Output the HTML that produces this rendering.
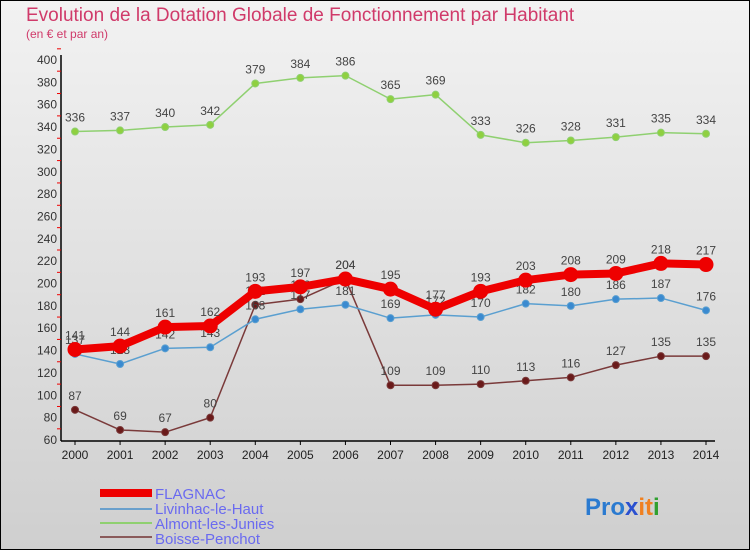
<!DOCTYPE html>
<html><head><meta charset="utf-8"><style>
body{margin:0}
#c{width:750px;height:550px;position:relative;font-family:"Liberation Sans",sans-serif;background:linear-gradient(#f2f2f2,#cfcfcf);overflow:hidden}
</style></head><body>
<div id="c">
<svg id="s" width="750" height="550" xmlns="http://www.w3.org/2000/svg">
<rect x="0.5" y="0.5" width="749" height="549" fill="none" stroke="#000"/>
<text x="26" y="21" font-size="19" fill="#d03a6a">Evolution de la Dotation Globale de Fonctionnement par Habitant</text>
<text x="26" y="38" font-size="12" fill="#d03a6a">(en € et par an)</text>
<g id="axes"></g><g id="series"></g>
<g>
<rect x="100" y="489" width="52" height="8" fill="#e00"/>
<line x1="100" y1="509" x2="152" y2="509" stroke="#6aa0cc" stroke-width="2"/>
<line x1="100" y1="523" x2="152" y2="523" stroke="#8fd070" stroke-width="2"/>
<line x1="100" y1="537" x2="152" y2="537" stroke="#8a5a5a" stroke-width="2"/>
<g font-size="15" fill="#6a6af0">
<text x="155" y="499">FLAGNAC</text>
<text x="155" y="514">Livinhac-le-Haut</text>
<text x="155" y="529">Almont-les-Junies</text>
<text x="155" y="544">Boisse-Penchot</text>
</g></g>
<text x="585" y="515" font-size="24" font-weight="bold"><tspan fill="#2a7ad0">Pro</tspan><tspan fill="#2a50d0">x</tspan><tspan fill="#f08020">it</tspan><tspan fill="#30a030">i</tspan></text>
</svg></div>
<script>
const years=[2000,2001,2002,2003,2004,2005,2006,2007,2008,2009,2010,2011,2012,2013,2014];
const flagnac=[141,144,161,162,193,197,204,195,177,193,203,208,209,218,217];
const livinhac=[137,128,142,143,168,177,181,169,172,170,182,180,186,187,176];
const almont=[336,337,340,342,379,384,386,365,369,333,326,328,331,335,334];
const boisse=[87,69,67,80,181,186,204,109,109,110,113,116,127,135,135];
const yTicks=[60,80,100,120,140,160,180,200,220,240,260,280,300,320,340,360,380,400];
const NS="http://www.w3.org/2000/svg";
const X=i=>75+i*(706-75)/(years.length-1);
const Y=v=>440-(v-60)*380/340;
function mk(t,a,p){const e=document.createElementNS(NS,t);for(const k in a)e.setAttribute(k,a[k]);p.appendChild(e);return e;}
const ax=document.getElementById('axes');
let l=mk('line',{x1:61,y1:55,x2:61,y2:441,stroke:'#000','stroke-width':1.5},ax);


l=mk('line',{x1:61,y1:441,x2:715,y2:441,stroke:'#000','stroke-width':1.5},ax);


yTicks.forEach(v=>{
 const t=mk('text',{x:57,y:Y(v)+4,'font-size':12,fill:'#333','text-anchor':'end'},ax);t.textContent=v;
 
 
 mk('line',{x1:57,y1:Y(v+10),x2:61,y2:Y(v+10),stroke:'#e00'},ax);
});
years.forEach((y,i)=>{
 mk('line',{x1:X(i),y1:441,x2:X(i),y2:445,stroke:'#000'},ax);
 const t=mk('text',{x:X(i),y:459,'font-size':12,fill:'#222','text-anchor':'middle'},ax);t.textContent=y;
 
 
});
const sg=document.getElementById('series');
function draw(vals,name,color,w,r,dot){
 const g=mk('g',{},sg);
 
 
 const p=mk('polyline',{points:vals.map((v,i)=>X(i)+','+Y(v)).join(' '),fill:'none',stroke:color,'stroke-width':w,'stroke-linejoin':'round'},g);
 
 
 vals.forEach((v,i)=>{
  const c=mk('circle',{cx:X(i),cy:Y(v),r:r,fill:dot,stroke:color,'stroke-width':1},g);
  
  
  const t=mk('text',{x:X(i),y:Y(v)-10,'font-size':12,fill:'#444','text-anchor':'middle'},g);t.textContent=v;
  
  
 });
}
draw(almont,'almont','#8fd070',1.5,3.5,'#8fd040');
draw(boisse,'boisse','#7a3a3a',1.5,3.5,'#6a1a1a');
draw(livinhac,'livinhac','#5a9fd0',1.5,3.5,'#3a8ad0');
draw(flagnac,'flagnac','#e00',8,7,'#e00');
</script>
</body></html>
